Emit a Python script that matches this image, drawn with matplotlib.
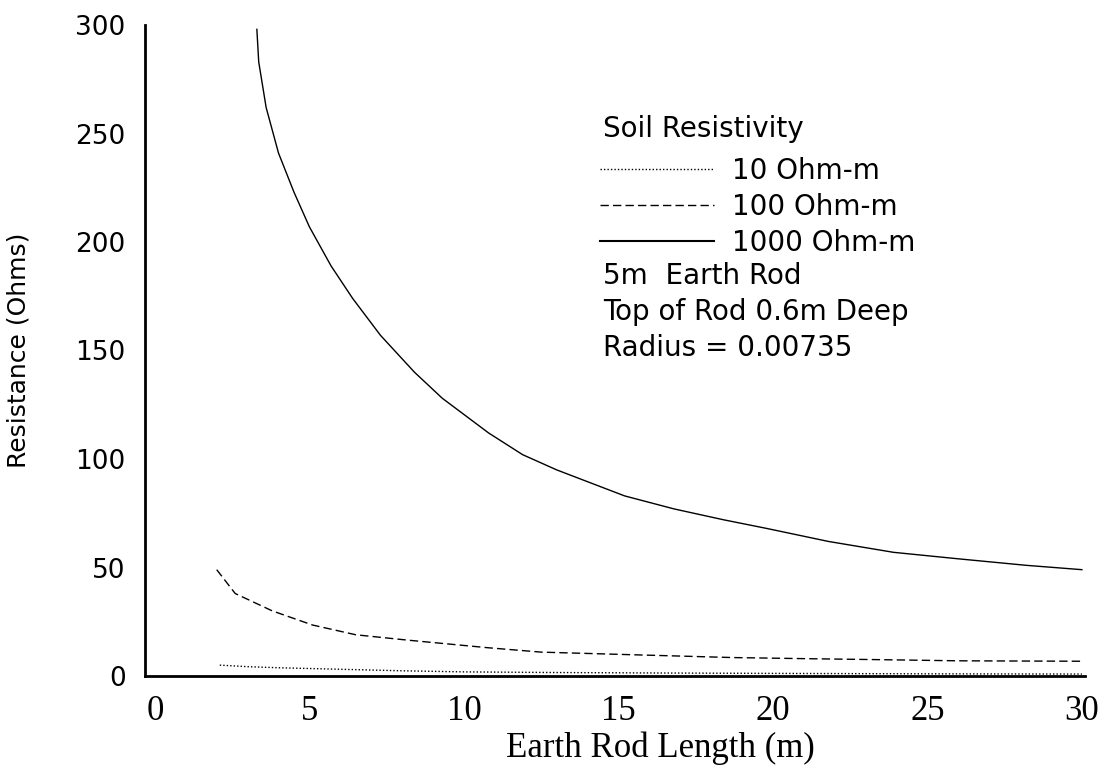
import matplotlib
matplotlib.use("Agg")
import matplotlib.pyplot as plt
from matplotlib.lines import Line2D

# values
length_1000 = [3.3, 3.36, 3.6, 4.0, 4.5, 5.0, 5.7, 6.4, 7.3, 8.4, 9.3, 10.8, 11.9,
               13.0, 14.1, 15.2, 16.8, 18.4, 19.8, 21.8, 23.9, 26.0, 28.2, 30.0]
res_1000 = [298, 283, 262, 241, 223, 207, 189, 174, 157, 140, 128, 112, 102,
            95, 89, 83, 77, 72, 68, 62, 57, 54, 51, 49]

length_100 = [2.0, 2.6, 3.8, 5.1, 6.5, 8.2, 10.8, 12.5, 15.7, 18.7, 21.0, 23.6, 26.0, 30.0]
res_100 = [49, 38, 30, 23.5, 19, 16.5, 13, 11, 9.7, 8.5, 8.0, 7.5, 7.0, 6.8]

length_10 = [2.1, 3.0, 4.0, 6.0, 8.0, 10.0, 13.0, 16.0, 20.0, 25.0, 30.0]
res_10 = [5.0, 4.3, 3.8, 3.1, 2.4, 1.9, 1.6, 1.4, 1.2, 1.0, 0.9]

x_ticks = [0, 5, 10, 15, 20, 25, 30]
y_ticks = [0, 50, 100, 150, 200, 250, 300]
series_labels = ["10 Ohm-m", "100 Ohm-m", "1000 Ohm-m"]
notes = ["5m  Earth Rod", "Top of Rod 0.6m Deep", "Radius = 0.00735"]

W, H = 1113, 774
fig = plt.figure(figsize=(W / 100, H / 100), dpi=100)
ax = fig.add_axes([145 / W, 1 - 676 / H, 940 / W, 651 / H])

sans = "DejaVu Sans"
serif = "Liberation Serif"

ax.plot(length_10, res_10, color="black", lw=1.0, ls=(0, (1, 1.5)))
ax.plot(length_100, res_100, color="black", lw=1.0, ls=(0, (6, 3)))
ax.plot(length_1000, res_1000, color="black", lw=1.0, ls="-")

ax.set_xlim(-0.32, 30.1)
ax.set_ylim(0, 300)
ax.set_xticks(x_ticks)
ax.set_yticks(y_ticks)
ax.tick_params(length=0, pad=14)
ax.tick_params(axis="x", pad=14)
for lab in ax.get_yticklabels():
    lab.set_fontfamily(sans)
    lab.set_fontsize(19)
for lab in ax.get_xticklabels():
    lab.set_fontfamily(serif)
    lab.set_fontsize(25)

for side in ["top", "right"]:
    ax.spines[side].set_visible(False)
for side in ["left", "bottom"]:
    ax.spines[side].set_linewidth(2.0)

ax.set_ylabel("Resistance (Ohms)", fontfamily=sans, fontsize=18)
ax.yaxis.set_label_coords(-0.122, 0.5)
ax.set_xlabel("Earth Rod Length (m)", fontfamily=serif, fontsize=25)
ax.xaxis.set_label_coords(0.548, -0.085)

# legend block
fig.text(603 / W, 1 - 129 / H, "Soil Resistivity", fontfamily=sans, fontsize=20,
         va="center", ha="left")
handles = [
    Line2D([], [], color="black", lw=1.0, ls=(0, (1, 1.5))),
    Line2D([], [], color="black", lw=1.0, ls=(0, (6, 3))),
    Line2D([], [], color="black", lw=1.5, ls="-"),
]
fig.legend(handles, series_labels, loc="upper left",
           bbox_to_anchor=(600 / W, 1 - 157 / H), bbox_transform=fig.transFigure,
           frameon=False, prop={"family": sans, "size": 20}, handlelength=4.1,
           handletextpad=0.65, labelspacing=0.29, borderpad=0, borderaxespad=0)
for i, note in enumerate(notes):
    fig.text(603 / W, 1 - (276 + 36 * i) / H, note, fontfamily=sans, fontsize=20,
             va="center", ha="left")

fig.savefig("out.png", dpi=100)
